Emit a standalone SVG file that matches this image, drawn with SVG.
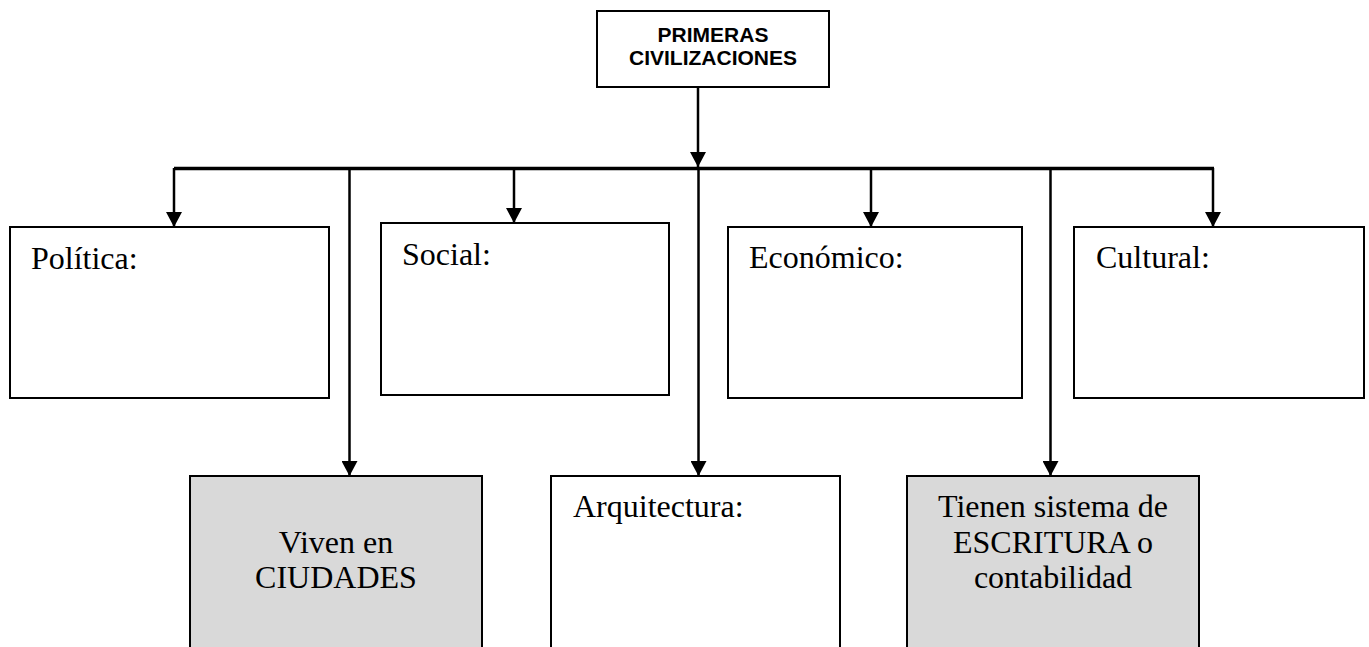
<svg xmlns="http://www.w3.org/2000/svg" width="1369" height="647" viewBox="0 0 1369 647">
<defs>
<marker id="arr" viewBox="0 0 15 16" refX="15" refY="8" markerWidth="15" markerHeight="16" markerUnits="userSpaceOnUse" orient="auto">
<path d="M0,0 L15,8 L0,16 Z" fill="#000"/>
</marker>
<style>
.box{fill:#fff;stroke:#000;stroke-width:2}
.gray{fill:#d9d9d9;stroke:#000;stroke-width:2}
.lbl{font-family:"Liberation Serif","Times New Roman",serif;font-size:32px;fill:#000}
.ctr{text-anchor:middle}
.title{font-family:"Liberation Sans",Arial,sans-serif;font-size:21px;font-weight:bold;text-anchor:middle;fill:#000}
.ln{stroke:#000;stroke-width:2.5;fill:none}
.hl{stroke:#000;stroke-width:3.5;fill:none}
</style>
</defs>
<rect width="1369" height="647" fill="#fff"/>
<g id="connectors">
<line class="ln" x1="698" y1="87" x2="698" y2="167" marker-end="url(#arr)"/>
<line class="hl" x1="174" y1="168.5" x2="1214" y2="168.5"/>
<line class="ln" x1="174" y1="168" x2="174" y2="227" marker-end="url(#arr)"/>
<line class="ln" x1="514" y1="168" x2="514" y2="223" marker-end="url(#arr)"/>
<line class="ln" x1="871" y1="168" x2="871" y2="227" marker-end="url(#arr)"/>
<line class="ln" x1="1213" y1="168" x2="1213" y2="227" marker-end="url(#arr)"/>
<line class="ln" x1="349.5" y1="168" x2="349.5" y2="476" marker-end="url(#arr)"/>
<line class="ln" x1="698.5" y1="168" x2="698.5" y2="476" marker-end="url(#arr)"/>
<line class="ln" x1="1050.5" y1="168" x2="1050.5" y2="476" marker-end="url(#arr)"/>
</g>
<g id="node-primeras">
<rect class="box" x="597" y="11" width="232" height="76"/>
<text class="title" x="713" y="42">PRIMERAS</text>
<text class="title" x="713" y="65">CIVILIZACIONES</text>
</g>
<g id="node-politica">
<rect class="box" x="10" y="227" width="319" height="171"/>
<text class="lbl" x="31" y="269">Política:</text>
</g>
<g id="node-social">
<rect class="box" x="381" y="223" width="288" height="172"/>
<text class="lbl" x="402" y="265">Social:</text>
</g>
<g id="node-economico">
<rect class="box" x="728" y="227" width="294" height="171"/>
<text class="lbl" x="749" y="268">Económico:</text>
</g>
<g id="node-cultural">
<rect class="box" x="1074" y="227" width="290" height="171"/>
<text class="lbl" x="1096" y="268">Cultural:</text>
</g>
<g id="node-ciudades">
<rect class="gray" x="190" y="476" width="292" height="190"/>
<text class="lbl ctr" x="336" y="553">Viven en</text>
<text class="lbl ctr" x="336" y="588">CIUDADES</text>
</g>
<g id="node-arquitectura">
<rect class="box" x="551" y="476" width="289" height="190"/>
<text class="lbl" x="573" y="517">Arquitectura:</text>
</g>
<g id="node-escritura">
<rect class="gray" x="907" y="476" width="292" height="190"/>
<text class="lbl ctr" x="1053" y="517">Tienen sistema de</text>
<text class="lbl ctr" x="1053" y="553">ESCRITURA o</text>
<text class="lbl ctr" x="1053" y="588">contabilidad</text>
</g>
</svg>
